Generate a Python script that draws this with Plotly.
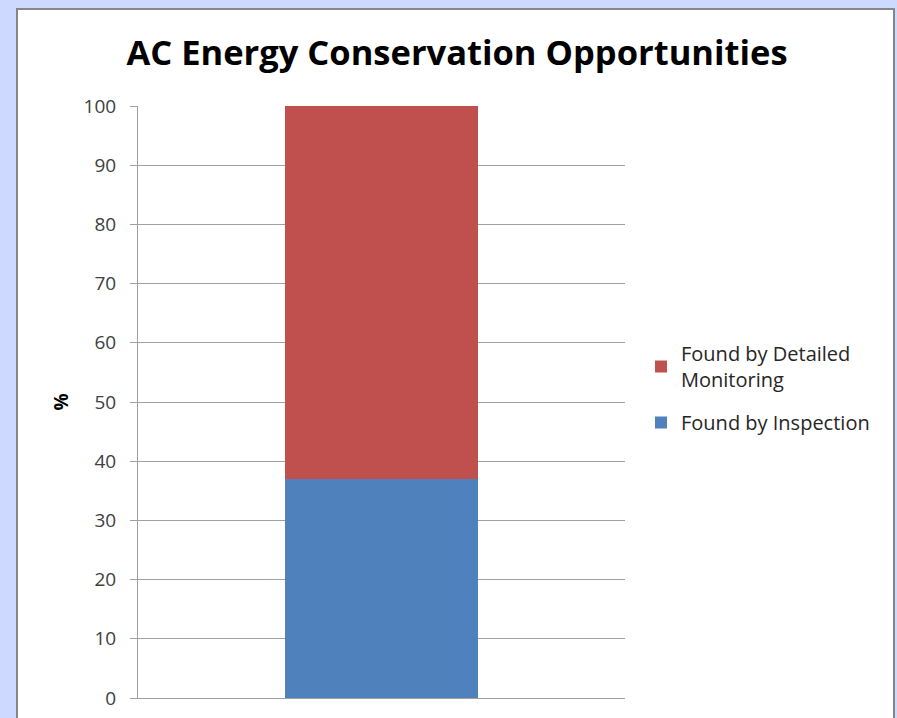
import plotly.graph_objects as go

categories = [""]
inspection = [37]
detailed = [63]
series_names = ["Found by Inspection", "Found by Detailed<br>Monitoring"]
tick_vals = [0, 10, 20, 30, 40, 50, 60, 70, 80, 90, 100]

W, H = 897, 718
L, R, T, B = 138, 272, 106, 20
pw, ph = W - L - R, H - T - B

def px_x(p):
    return (p - L) / pw

def px_y(p):
    return (H - B - p) / ph

fig = go.Figure()
fig.add_trace(go.Bar(x=categories, y=inspection, name=series_names[0], legendgroup="b",
                     legendrank=2,
                     marker=dict(color="#4f81bd", line=dict(width=0)), width=0.398))
fig.add_trace(go.Bar(x=categories, y=detailed, name=series_names[1], legendgroup="a",
                     legendrank=1,
                     marker=dict(color="#c0504d", line=dict(width=0)), width=0.398))

fig.add_shape(type="rect", xref="paper", yref="paper",
              x0=px_x(17), x1=px_x(894), y0=px_y(740), y1=px_y(9),
              fillcolor="white", line=dict(color="#868686", width=2), layer="below")

fig.update_layout(
    width=W, height=H,
    margin=dict(l=L, r=R, t=T, b=B, autoexpand=False),
    paper_bgcolor="#cdd9fe",
    plot_bgcolor="rgba(0,0,0,0)",
    barmode="stack",
    font=dict(family="Open Sans", color="#404040"),
    title=dict(text="<b>AC Energy Conservation Opportunities</b>",
               x=px_x(457), xref="paper", xanchor="center",
               y=1 - 53 / H, yref="container", yanchor="middle",
               font=dict(family="Open Sans", size=34.5, color="black")),
    showlegend=True,
    legend=dict(x=px_x(641), xanchor="left", y=px_y(388), yanchor="middle",
                traceorder="grouped", font=dict(size=20, color="#262626"),
                bgcolor="rgba(0,0,0,0)", itemclick=False, tracegroupgap=14),
    xaxis=dict(showticklabels=False, showline=True, linecolor="#a0a0a0",
               linewidth=1, showgrid=False, ticks="", range=[-0.5, 0.5],
               automargin=False),
    yaxis=dict(range=[0, 100], tickvals=tick_vals, showgrid=True,
               gridcolor="#a0a0a0", gridwidth=1, showline=True,
               linecolor="#a0a0a0", linewidth=1, ticks="outside", ticklen=7,
               tickcolor="#a0a0a0", tickfont=dict(size=19, color="#404040"),
               ticklabelstandoff=10, zeroline=False, automargin=False,
               title=dict(text="<b>%</b>", standoff=9,
                          font=dict(size=19, color="black"))),
)

fig.write_html("out.html")
